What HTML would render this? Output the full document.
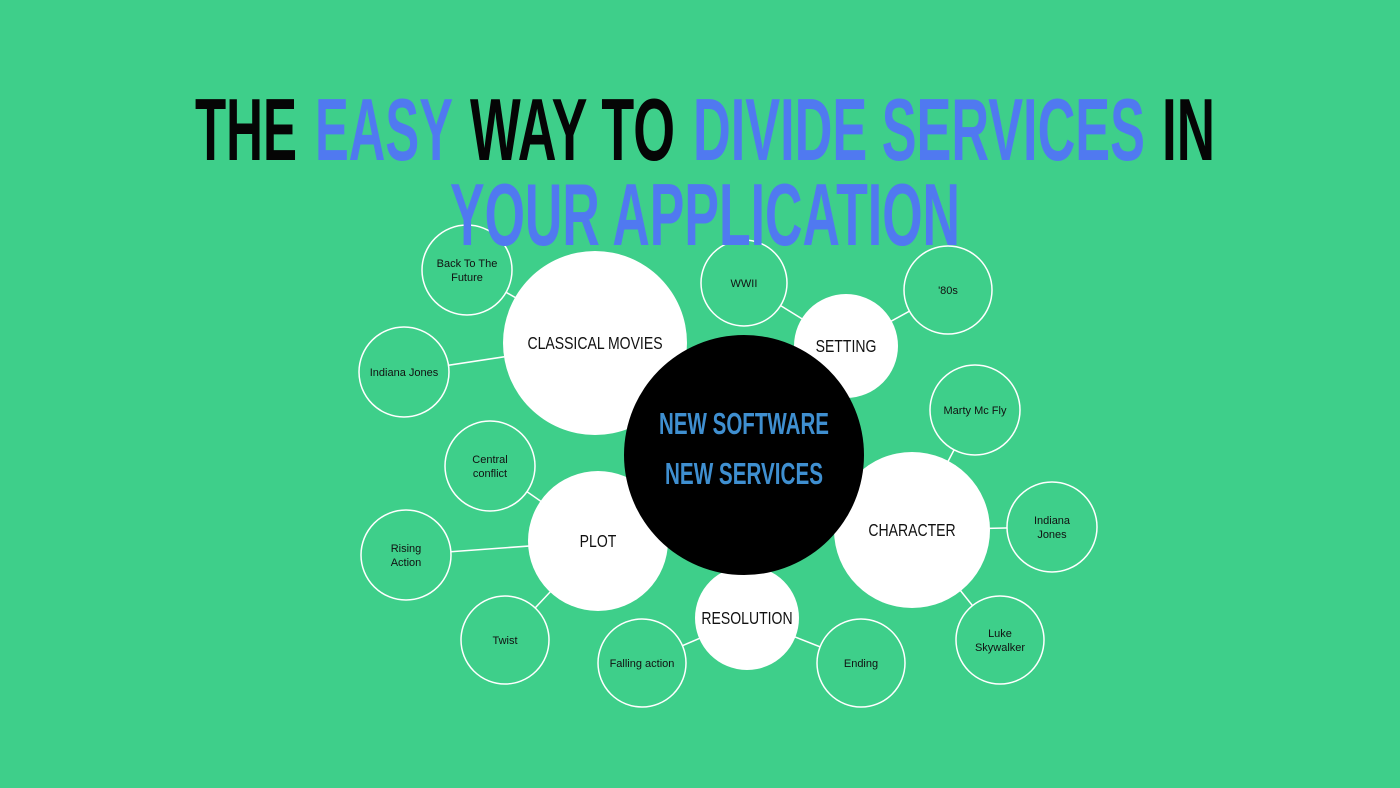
<!DOCTYPE html>
<html><head><meta charset="utf-8"><style>
html,body{margin:0;padding:0;background:#3ecf8a;}
svg{display:block}
.t{font-family:"Liberation Sans Narrow","Liberation Sans",sans-serif;font-weight:bold;font-size:88px}
.n{font-family:"Liberation Sans Narrow","Liberation Sans",sans-serif;font-size:18px;fill:#111;text-anchor:middle}
.s{font-family:"Liberation Sans",sans-serif;font-size:11px;fill:#111;text-anchor:middle}
</style></head><body>
<svg width="1400" height="788" viewBox="0 0 1400 788">
<rect width="1400" height="788" fill="#3ecf8a"/>
<g id="links" stroke="#fff" stroke-width="1.5"></g>
<g id="nodes"></g>
<g>
<text class="t" x="195" y="160" textLength="102" lengthAdjust="spacingAndGlyphs" fill="#050505">THE</text>
<text class="t" x="315" y="160" textLength="138" lengthAdjust="spacingAndGlyphs" fill="#5079f0">EASY</text>
<text class="t" x="470" y="160" textLength="205" lengthAdjust="spacingAndGlyphs" fill="#050505">WAY TO</text>
<text class="t" x="693" y="160" textLength="452" lengthAdjust="spacingAndGlyphs" fill="#5079f0">DIVIDE SERVICES</text>
<text class="t" x="1162" y="160" textLength="53" lengthAdjust="spacingAndGlyphs" fill="#050505">IN</text>
<text class="t" x="450" y="245" textLength="510" lengthAdjust="spacingAndGlyphs" fill="#5079f0">YOUR APPLICATION</text>
</g>
</svg>
<script>
const big=[
 ["classical-movies",595,343,92,["CLASSICAL MOVIES"]],
 ["setting",846,346,52,["SETTING"]],
 ["plot",598,541,70,["PLOT"]],
 ["character",912,530,78,["CHARACTER"]],
 ["resolution",747,618,52,["RESOLUTION"]]
];
const small=[
 ["back-to-the-future",467,270,45,["Back To The","Future"],0],
 ["indiana-jones",404,372,45,["Indiana Jones"],0],
 ["wwii",744,283,43,["WWII"],1],
 ["80s",948,290,44,["'80s"],1],
 ["marty-mc-fly",975,410,45,["Marty Mc Fly"],3],
 ["indiana-jones-2",1052,527,45,["Indiana","Jones"],3],
 ["luke-skywalker",1000,640,44,["Luke","Skywalker"],3],
 ["central-conflict",490,466,45,["Central","conflict"],2],
 ["rising-action",406,555,45,["Rising","Action"],2],
 ["twist",505,640,44,["Twist"],2],
 ["falling-action",642,663,44,["Falling action"],4],
 ["ending",861,663,44,["Ending"],4]
];
const NS="http://www.w3.org/2000/svg";
const links=document.getElementById('links'),nodes=document.getElementById('nodes');
function mk(t,a){const e=document.createElementNS(NS,t);for(const k in a)e.setAttribute(k,a[k]);return e;}
function label(g,cx,cy,lines,cls,lh){
 lines.forEach((s,i)=>{const t=mk('text',{class:cls,x:cx,y:cy+(i-(lines.length-1)/2)*lh+(cls=='n'?6:4)});
 if(cls=='n')t.setAttribute('transform','translate('+cx+' 0) scale(0.78 1) translate('+(-cx)+' 0)');
 t.textContent=s;g.appendChild(t);});
}
small.forEach(d=>{const p=big[d[5]];
 const l=mk('line',{x1:d[1],y1:d[2],x2:p[1],y2:p[2]});
 
 
 links.appendChild(l);});
big.forEach(d=>{
 const l=mk('line',{x1:d[1],y1:d[2],x2:744,y2:455});
 
 
 links.appendChild(l);});
small.forEach(d=>{const g=mk('g',{});
 
 
 g.appendChild(mk('circle',{cx:d[1],cy:d[2],r:d[3],fill:'#3ecf8a',stroke:'#fff','stroke-width':1.5}));
 label(g,d[1],d[2],d[4],'s',14);nodes.appendChild(g);});
big.forEach(d=>{const g=mk('g',{});
 
 
 g.appendChild(mk('circle',{cx:d[1],cy:d[2],r:d[3],fill:'#fff'}));
 label(g,d[1],d[2],d[4],'n',20);nodes.appendChild(g);});
const c=mk('g',{});


c.appendChild(mk('circle',{cx:744,cy:455,r:120,fill:'#000'}));
[["NEW SOFTWARE",434],["NEW SERVICES",484]].forEach(s=>{const t=mk('text',{x:744,y:s[1],'text-anchor':'middle',fill:'#3f8fd0','font-family':'"Liberation Sans Narrow","Liberation Sans",sans-serif','font-weight':'bold','font-size':'31',textLength:s[0]=="NEW SOFTWARE"?170:158,lengthAdjust:'spacingAndGlyphs'});t.textContent=s[0];c.appendChild(t);});
nodes.appendChild(c);
</script>
</body></html>
